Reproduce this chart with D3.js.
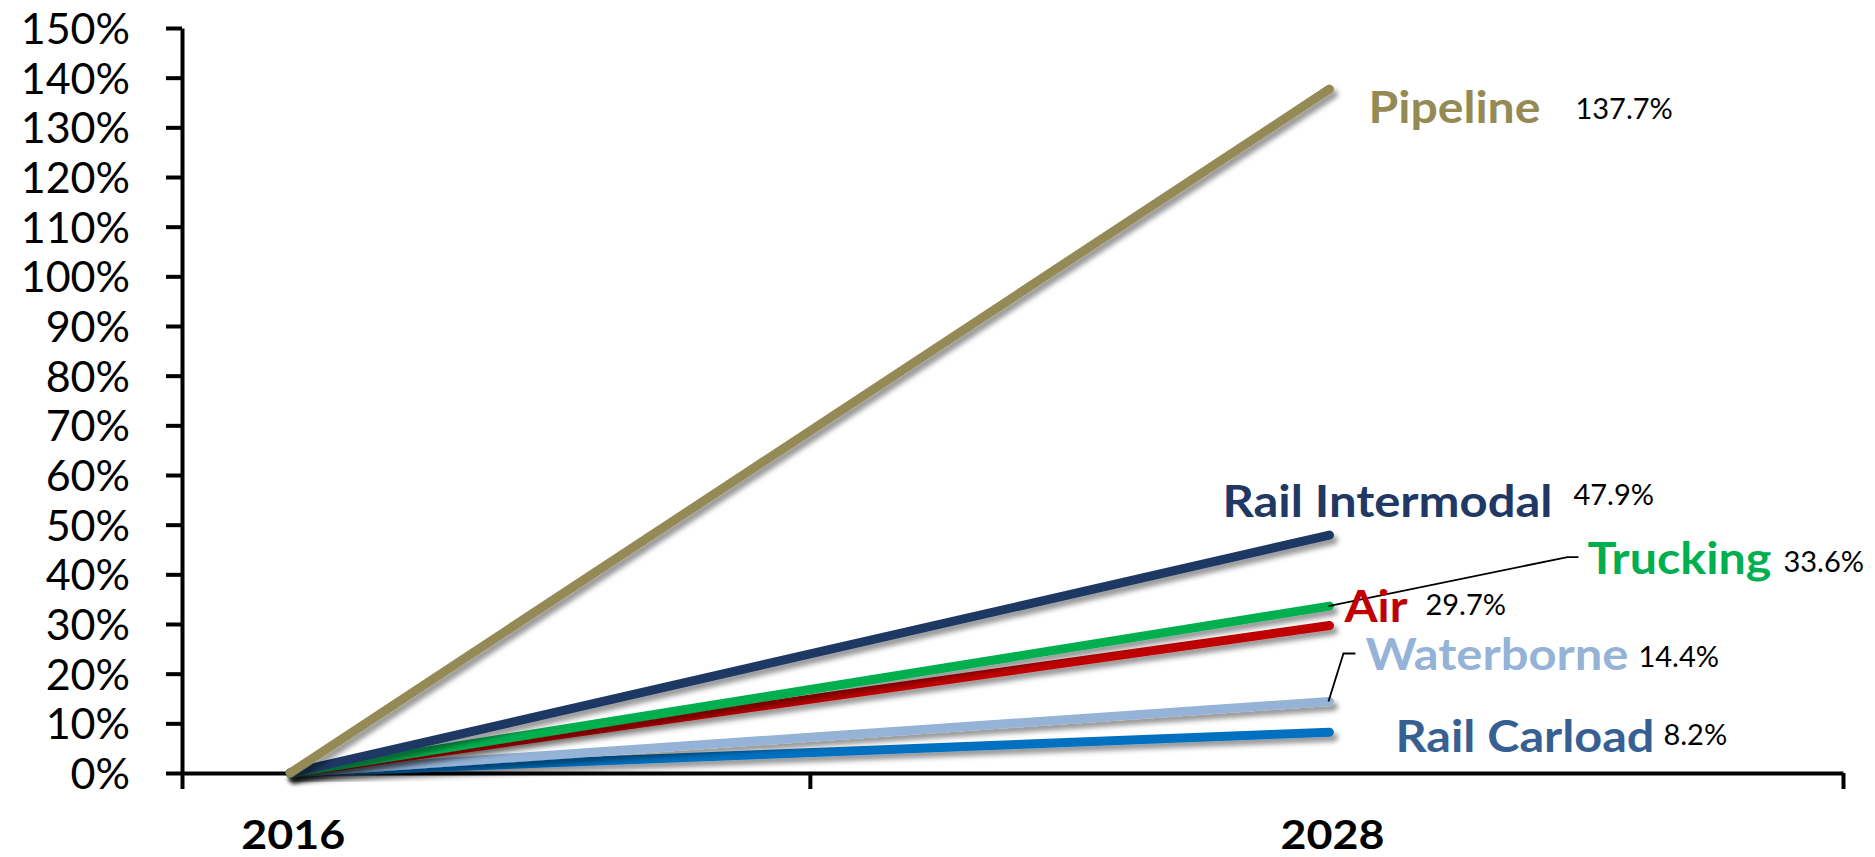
<!DOCTYPE html>
<html>
<head>
<meta charset="utf-8">
<script src="https://cdn.jsdelivr.net/npm/d3@7"></script>
<style>
  body { margin: 0; background: #fff; }
  text { font-family: Lato, "Open Sans", sans-serif; }
</style>
</head>
<body>
<div id="chart"></div>
<script>
// data
const years = [2016, 2028];
const modes = ["Rail Carload", "Waterborne", "Air", "Trucking", "Rail Intermodal", "Pipeline"];
const growth2016 = [0, 0, 0, 0, 0, 0];
const growth2028 = [8.2, 14.4, 29.7, 33.6, 47.9, 137.7];
const yTicks = d3.range(0, 151, 10);

// styles
const lineColors = ["#0070C0", "#95B3D7", "#C00000", "#00B050", "#1F3864", "#948A54"];
const labelColors = ["#376092", "#95B3D7", "#C00000", "#00B050", "#1F3864", "#948A54"];

// label placement relative to the 2028 end of each line: [dx, dy, width, valueDx, valueDy]
const labelLayout = {
  "Pipeline": [39, 34, 172, 246, 30],
  "Rail Intermodal": [-107, -18, 330, 244, -30],
  "Trucking": [258, -32, 184, 454, -34],
  "Air": [15, -3.5, 63, 96, -10.5],
  "Waterborne": [36, -31.5, 263, 309, -34.5],
  "Rail Carload": [66, 20, 259, 334, 13]
};
// leader lines: extra bends from line end [dx, dy]
const leaders = {
  "Trucking": [[238, -49], [249, -49]],
  "Waterborne": [[14, -48], [26, -48]]
};

let width = 1875, height = 857;
let svg = d3.select("#chart").append("svg")
  .attr("width", width)
  .attr("height", height);

let defs = svg.append("defs");
let shadow = defs.append("filter").attr("id", "shadow")
  .attr("x", "-20%").attr("y", "-20%").attr("width", "140%").attr("height", "140%");
shadow.append("feDropShadow")
  .attr("dx", 4).attr("dy", 5).attr("stdDeviation", 2.5)
  .attr("flood-color", "#000").attr("flood-opacity", 0.4);

// scales
let x = d3.scaleLinear().domain([2014.75, 2033.93]).range([182, 1843]);
let y = d3.scaleLinear().domain([0, 150]).range([773, 28]);

// y axis
let yAxis = svg.append("g")
  .attr("transform", "translate(" + x.range()[0] + ",0)")
  .call(d3.axisLeft(y).tickValues(yTicks).tickSize(16).tickSizeOuter(0).tickPadding(36)
    .tickFormat(d => d + "%"));
yAxis.select(".domain").attr("stroke", "#000").attr("stroke-width", 4);
yAxis.selectAll(".tick line").attr("stroke", "#000").attr("stroke-width", 4);
yAxis.selectAll(".tick text")
  .attr("fill", "#000")
  .attr("font-size", 43)
  .attr("font-family", "Lato, sans-serif")
  .attr("dy", "0.36em");

// x axis
let xAxis = svg.append("g")
  .attr("transform", "translate(0," + y(0) + ")")
  .call(d3.axisBottom(x).tickValues([x.domain()[0], 2022, x.domain()[1]]).tickSize(16)
    .tickSizeOuter(0).tickFormat(""));
xAxis.select(".domain").attr("stroke", "#000").attr("stroke-width", 4);
xAxis.selectAll(".tick line").attr("stroke", "#000").attr("stroke-width", 4);

svg.append("g").selectAll("text")
  .data(years)
  .enter()
  .append("text")
  .attr("x", d => x(d) + 3)
  .attr("y", 849)
  .attr("text-anchor", "middle")
  .attr("font-size", 40)
  .attr("font-weight", 700)
  .attr("fill", "#000")
  .attr("textLength", 104)
  .attr("lengthAdjust", "spacingAndGlyphs")
  .text(d => d);

// lines
let line = d3.line().x(d => x(d[0])).y(d => y(d[1]));
let series = modes.map((m, i) => ({
  name: m,
  points: [[years[0], growth2016[i]], [years[1], growth2028[i]]],
  color: lineColors[i],
  labelColor: labelColors[i],
  value: growth2028[i]
}));

svg.append("g").selectAll("path")
  .data(series)
  .enter()
  .append("path")
  .attr("d", d => line(d.points))
  .attr("fill", "none")
  .attr("stroke", d => d.color)
  .attr("stroke-width", 9)
  .attr("stroke-linecap", "round")
  .attr("filter", "url(#shadow)");

// leader lines
let endX = x(years[1]);
Object.keys(leaders).forEach(function (m) {
  let v = growth2028[modes.indexOf(m)];
  let pts = [[endX - 1, y(v)]].concat(leaders[m].map(p => [endX + p[0], y(v) + p[1]]));
  svg.append("path")
    .attr("d", d3.line()(pts))
    .attr("fill", "none")
    .attr("stroke", "#000")
    .attr("stroke-width", 1.8);
});

// labels
let labels = svg.append("g");
series.forEach(function (d) {
  let lay = labelLayout[d.name];
  labels.append("text")
    .attr("x", endX + lay[0])
    .attr("y", y(d.value) + lay[1])
    .attr("font-size", 44)
    .attr("font-weight", 700)
    .attr("fill", d.labelColor)
    .attr("textLength", lay[2])
    .attr("lengthAdjust", "spacingAndGlyphs")
    .text(d.name);
  labels.append("text")
    .attr("x", endX + lay[3])
    .attr("y", y(d.value) + lay[4])
    .attr("font-size", 29)
    .attr("fill", "#000")
    .text(d3.format(".1f")(d.value) + "%");
});
</script>
</body>
</html>
